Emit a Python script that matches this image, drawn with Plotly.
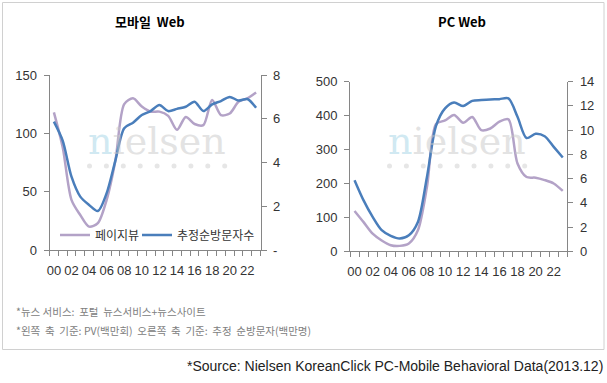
import plotly.graph_objects as go

W, H = 607, 383

hours = list(range(24))
hour_labels = ["%02d" % h for h in hours]

# Mobile Web
mobile_pv = [118, 88, 43, 30, 20, 23, 43, 77, 125, 130, 123, 118.6, 118.6, 115, 103, 114,
             108, 107, 128.6, 115.7, 117, 127, 130, 135]
mobile_uv = [5.87, 5.0, 3.35, 2.44, 2.06, 1.78, 2.6, 4.1, 5.57, 5.82, 6.17, 6.35, 6.63, 6.35,
             6.45, 6.55, 6.78, 6.35, 6.66, 6.81, 7.0, 6.83, 6.9, 6.5]

# PC Web
pc_pv = [119, 86, 52, 32, 18, 16, 23, 62, 190, 375, 386, 402, 379, 396, 357, 362, 382, 389,
         259, 219, 217, 210, 200, 178]
pc_uv = [5.87, 4.2, 2.84, 1.74, 1.27, 1.05, 1.32, 2.42, 6.14, 10.35, 11.8, 12.28, 11.99, 12.42,
         12.48, 12.53, 12.56, 12.62, 11.1, 9.35, 9.7, 9.5, 8.62, 7.74]

mob_left_ticks = [0, 50, 100, 150]
mob_right_ticks = [0, 2, 4, 6, 8]
mob_right_text = ["-", "2", "4", "6", "8"]
pc_left_ticks = [0, 100, 200, 300, 400, 500]
pc_right_ticks = [0, 2, 4, 6, 8, 10, 12, 14]

BLUE = "#4A7EBB"
PURPLE = "#B3A2C7"
AX = "#868686"
TXT = "#333333"
KR = "Noto Sans CJK KR"

fig = go.Figure()
fig.add_trace(go.Scatter(x=hours, y=mobile_pv, mode="lines", name="페이지뷰", legend="legend",
                         line=dict(color=PURPLE, width=2.5, shape="spline", smoothing=0.8),
                         xaxis="x", yaxis="y"))
fig.add_trace(go.Scatter(x=hours, y=mobile_uv, mode="lines", name="추정순방문자수", legend="legend2",
                         line=dict(color=BLUE, width=2.5, shape="spline", smoothing=0.8),
                         xaxis="x", yaxis="y2"))
fig.add_trace(go.Scatter(x=hours, y=pc_pv, mode="lines", name="페이지뷰", showlegend=False,
                         line=dict(color=PURPLE, width=2.5, shape="spline", smoothing=0.8),
                         xaxis="x2", yaxis="y3"))
fig.add_trace(go.Scatter(x=hours, y=pc_uv, mode="lines", name="추정순방문자수", showlegend=False,
                         line=dict(color=BLUE, width=2.5, shape="spline", smoothing=0.8),
                         xaxis="x2", yaxis="y4"))

tickfont = dict(family="Liberation Sans", size=13, color=TXT)


def xax(domain, anchor):
    return dict(domain=domain, anchor=anchor, range=[-0.5, 23.5], showgrid=False, zeroline=False,
                showline=True, linecolor=AX, linewidth=1, tickmode="array",
                tickvals=hours[::2], ticktext=hour_labels[::2], ticks="", tickfont=tickfont,
                ticklabelstandoff=8,
                minor=dict(tickmode="linear", tick0=-0.5, dtick=1, ticks="outside", ticklen=5,
                           tickcolor=AX, tickwidth=1),
                fixedrange=True, automargin=False)


def yax(domain, anchor, rng, vals, text=None, side="left", overlaying=None):
    d = dict(domain=domain, anchor=anchor, range=rng, side=side, showgrid=False, zeroline=False,
             showline=True, linecolor=AX, linewidth=1, tickmode="array", tickvals=vals,
             ticktext=text if text else [str(v) for v in vals], ticks="outside", ticklen=5,
             tickcolor=AX, tickfont=tickfont, ticklabelstandoff=4, fixedrange=True,
             automargin=False)
    if overlaying:
        d["overlaying"] = overlaying
        d.pop("domain")
    return d


ymob = [1 - 250 / H, 1 - 75 / H]
ypc = [1 - 251.3 / H, 1 - 81.7 / H]

legfont = dict(family=KR, size=12, color=TXT)
fig.update_layout(
    width=W, height=H, margin=dict(l=0, r=0, t=0, b=0),
    paper_bgcolor="white", plot_bgcolor="rgba(0,0,0,0)", template="none",
    xaxis=xax([49.5 / W, 260.5 / W], "y"),
    yaxis=yax(ymob, "x", [0, 150], mob_left_ticks),
    yaxis2=yax(None, "x", [0, 8], mob_right_ticks, mob_right_text, side="right", overlaying="y"),
    xaxis2=xax([350 / W, 567.3 / W], "y3"),
    yaxis3=yax(ypc, "x2", [0, 500], pc_left_ticks),
    yaxis4=yax(None, "x2", [0, 14], pc_right_ticks, side="right", overlaying="y3"),
    showlegend=True,
    legend=dict(orientation="h", x=55 / W, y=1 - 235 / H, xanchor="left", yanchor="middle",
                font=legfont, bgcolor="rgba(0,0,0,0)", itemwidth=30),
    legend2=dict(orientation="h", x=137 / W, y=1 - 235 / H, xanchor="left", yanchor="middle",
                 font=legfont, bgcolor="rgba(0,0,0,0)", itemwidth=30),
    hovermode=False,
)

annots = []
# titles
annots.append(dict(text="<b>모바일  Web</b>", x=150 / W, y=1 - 22 / H, xref="paper", yref="paper",
                    showarrow=False, xanchor="center", yanchor="middle",
                    font=dict(family=KR, size=13, color="#000")))
annots.append(dict(text="<b>PC Web</b>", x=462 / W, y=1 - 22 / H, xref="paper", yref="paper",
                    showarrow=False, xanchor="center", yanchor="middle",
                    font=dict(family=KR, size=13, color="#000")))
# watermarks ("nielsen" logo)
shapes = []
for cx in (157, 457):
    annots.append(dict(text="<span style='color:rgba(170,215,232,0.55)'>n</span>"
                            "<span style='color:rgba(200,200,200,0.5)'>ielsen</span>",
                       x=cx / W, y=1 - 141 / H, xref="paper", yref="paper", showarrow=False,
                       xanchor="center", yanchor="middle",
                       font=dict(family="DejaVu Serif", size=38)))
    for i in range(9):
        dx = cx - 67.5 + i * 16.9
        shapes.append(dict(type="circle", xref="paper", yref="paper",
                           x0=(dx - 2.5) / W, x1=(dx + 2.5) / W,
                           y0=1 - 168.5 / H, y1=1 - 163.5 / H,
                           line=dict(width=0), fillcolor="#E6E6E6", layer="below"))
# footnotes
annots.append(dict(text="*뉴스 서비스:  포털  뉴스서비스+뉴스사이트", x=14 / W, y=1 - 311 / H,
                   xref="paper", yref="paper", showarrow=False, xanchor="left", yanchor="middle",
                   font=dict(family=KR, size=10.5, color="#808080")))
annots.append(dict(text="*왼쪽  축  기준: PV(백만회)  오른쪽  축  기준:  추정  순방문자(백만명)",
                   x=14 / W, y=1 - 330 / H, xref="paper", yref="paper", showarrow=False,
                   xanchor="left", yanchor="middle",
                   font=dict(family=KR, size=10.5, color="#808080")))
annots.append(dict(text="*Source: Nielsen KoreanClick PC-Mobile Behavioral Data(2013.12)",
                   x=605 / W, y=1 - 366 / H, xref="paper", yref="paper", showarrow=False,
                   xanchor="right", yanchor="middle",
                   font=dict(family="Liberation Sans", size=14, color="#222")))
fig.update_layout(annotations=annots)

shapes.append(dict(type="rect", xref="paper", yref="paper", x0=2.5 / W, x1=604 / W,
                   y0=1 - 349.5 / H, y1=1 - 2.5 / H, line=dict(color="#D0D0D0", width=1),
                   fillcolor="rgba(0,0,0,0)", layer="below"))
fig.update_layout(shapes=shapes)

fig.write_html("out.html", config={"displayModeBar": False},
               post_script="document.body.style.margin='0';document.body.style.overflow='hidden';")
